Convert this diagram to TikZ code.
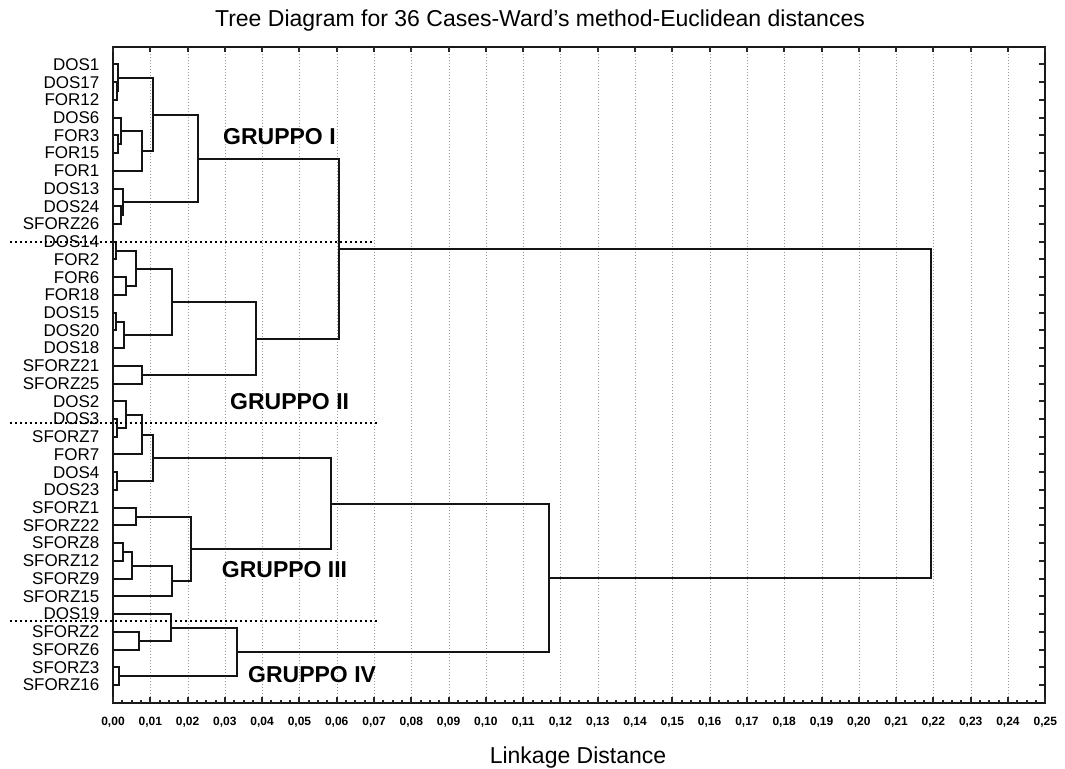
\documentclass[tikz,border=0pt]{standalone}
\usepackage{fontspec}
\setmainfont{Liberation Sans}
\usetikzlibrary{calc}

% join two clusters #2 and #3 at linkage distance #4, new cluster is #1
\newcommand\dmerge[4]{%
  \coordinate (#1x) at ({round(113+3729*#4)},0);
  \draw[tree] (#2) -- (#2 -| #1x) -- (#3 -| #1x) -- (#3);
  \path let \p1=(#2 -| #1x), \p2=(#3 -| #1x) in
    coordinate (#1) at (\x1,{round(0.5*(\y1+\y2))});
}

\begin{document}
\begin{tikzpicture}[x=1pt,y=-1pt,
  tree/.style={line width=2pt, draw=black!92, line join=miter},
  frame/.style={line width=2pt, draw=black!90},
  gridline/.style={draw=black!40, line width=1pt, dash pattern=on 1pt off 2pt},
  sep/.style={draw=black, line width=2pt, dash pattern=on 1.6pt off 3.4pt},
  tickmark/.style={line width=2pt, draw=black!85},
  leaf/.style={anchor=east, inner sep=0pt, font=\fontsize{17}{17}\selectfont},
  grp/.style={anchor=west, inner sep=0pt, font=\fontsize{23}{23}\selectfont\bfseries},
  ticklabel/.style={anchor=base, inner sep=0pt, font=\fontsize{12}{12}\selectfont\bfseries},
  heading/.style={anchor=base, inner sep=0pt, font=\fontsize{23}{23}\selectfont},
]
\useasboundingbox[fill=white] (0,0) rectangle (1065,768);

% vertical grid
\foreach \k in {1,...,24}
  \draw[gridline] ({round(113+37.29*\k)+0.5},48) -- ({round(113+37.29*\k)+0.5},702);

% leaves
\foreach \n [count=\i from 0] in {DOS1,DOS17,FOR12,DOS6,FOR3,FOR15,FOR1,DOS13,DOS24,SFORZ26,
  DOS14,FOR2,FOR6,FOR18,DOS15,DOS20,DOS18,SFORZ21,SFORZ25,DOS2,DOS3,SFORZ7,FOR7,DOS4,DOS23,
  SFORZ1,SFORZ22,SFORZ8,SFORZ12,SFORZ9,SFORZ15,DOS19,SFORZ2,SFORZ6,SFORZ3,SFORZ16}{
  \node[leaf] (t\i) at (99.5,{64.43+17.73*\i}) {\n};
  \coordinate (L\i) at (113,{round(64.43+17.73*\i)});
  \draw[tickmark] (1045,{round(64.43+17.73*\i)}) -- (1039,{round(64.43+17.73*\i)});
}

% group I
\dmerge{a1}{L1}{L2}{0.0010}
\dmerge{a2}{L0}{a1}{0.0014}
\dmerge{a3}{L4}{L5}{0.0013}
\dmerge{a4}{L3}{a3}{0.0021}
\dmerge{a5}{a4}{L6}{0.0077}
\dmerge{a6}{a2}{a5}{0.0106}
\dmerge{a7}{L8}{L9}{0.0022}
\dmerge{a8}{L7}{a7}{0.0028}
\dmerge{a9}{a6}{a8}{0.0227}
% group II
\dmerge{b1}{L10}{L11}{0.0008}
\dmerge{b2}{L12}{L13}{0.0035}
\dmerge{b3}{b1}{b2}{0.0063}
\dmerge{b4}{L14}{L15}{0.0009}
\dmerge{b5}{b4}{L16}{0.0030}
\dmerge{b6}{b3}{b5}{0.0157}
\dmerge{b7}{L17}{L18}{0.0077}
\dmerge{b8}{b6}{b7}{0.0383}
\dmerge{c0}{a9}{b8}{0.0606}
% group III
\dmerge{d1}{L20}{L21}{0.0010}
\dmerge{d2}{L19}{d1}{0.0035}
\dmerge{d3}{d2}{L22}{0.0077}
\dmerge{d4}{L23}{L24}{0.0010}
\dmerge{d5}{d3}{d4}{0.0106}
\dmerge{d6}{L25}{L26}{0.0063}
\dmerge{d7}{L27}{L28}{0.0028}
\dmerge{d8}{d7}{L29}{0.0052}
\dmerge{d9}{d8}{L30}{0.0159}
\dmerge{d10}{d6}{d9}{0.0208}
\dmerge{d11}{d5}{d10}{0.0585}
% group IV
\dmerge{e1}{L32}{L33}{0.0070}
\dmerge{e2}{L31}{e1}{0.0155}
\dmerge{e3}{L34}{L35}{0.0016}
\dmerge{e4}{e2}{e3}{0.0333}
\dmerge{f1}{d11}{e4}{0.1170}
\dmerge{root}{c0}{f1}{0.2194}

% frame and axis ticks
\draw[frame] (113,47) rectangle (1045,703);
\foreach \k in {0,...,25}{
  \draw[tickmark] ({round(113+37.29*\k)},703) -- ({round(113+37.29*\k)},697);
  \draw[tickmark] ({round(113+37.29*\k)},47) -- ({round(113+37.29*\k)},52);
  \node[ticklabel] (x\k) at ({113+37.29*\k},725) {\ifnum\k<10 0,0\k\else 0,\k\fi};
}
\foreach \k in {0,...,24}
  \foreach \m in {1,2,3}
    \draw[tickmark] ({round(113+37.29*\k+9.32*\m)},703) -- ({round(113+37.29*\k+9.32*\m)},700);

% group separators
\coordinate (s1a) at (10,242);  \coordinate (s1b) at (372,242);
\coordinate (s2a) at (10,423);  \coordinate (s2b) at (377,423);
\coordinate (s3a) at (10,621);  \coordinate (s3b) at (377,621);
\draw[sep] (s1a) -- (s1b);
\draw[sep] (s2a) -- (s2b);
\draw[sep] (s3a) -- (s3b);

% group names
\node[grp] (g1) at (223,136.7) {GRUPPO I};
\node[grp] (g2) at (230,401.7) {GRUPPO II};
\node[grp] (g3) at (221.7,569.3) {GRUPPO III};
\node[grp] (g4) at (248,675) {GRUPPO IV};

% titles
\node[heading] (title) at (540,26.7) {Tree Diagram for 36 Cases-Ward's method-Euclidean distances};
\node[heading] (xlabel) at (578,763) {Linkage Distance};
\end{tikzpicture}
\end{document}
